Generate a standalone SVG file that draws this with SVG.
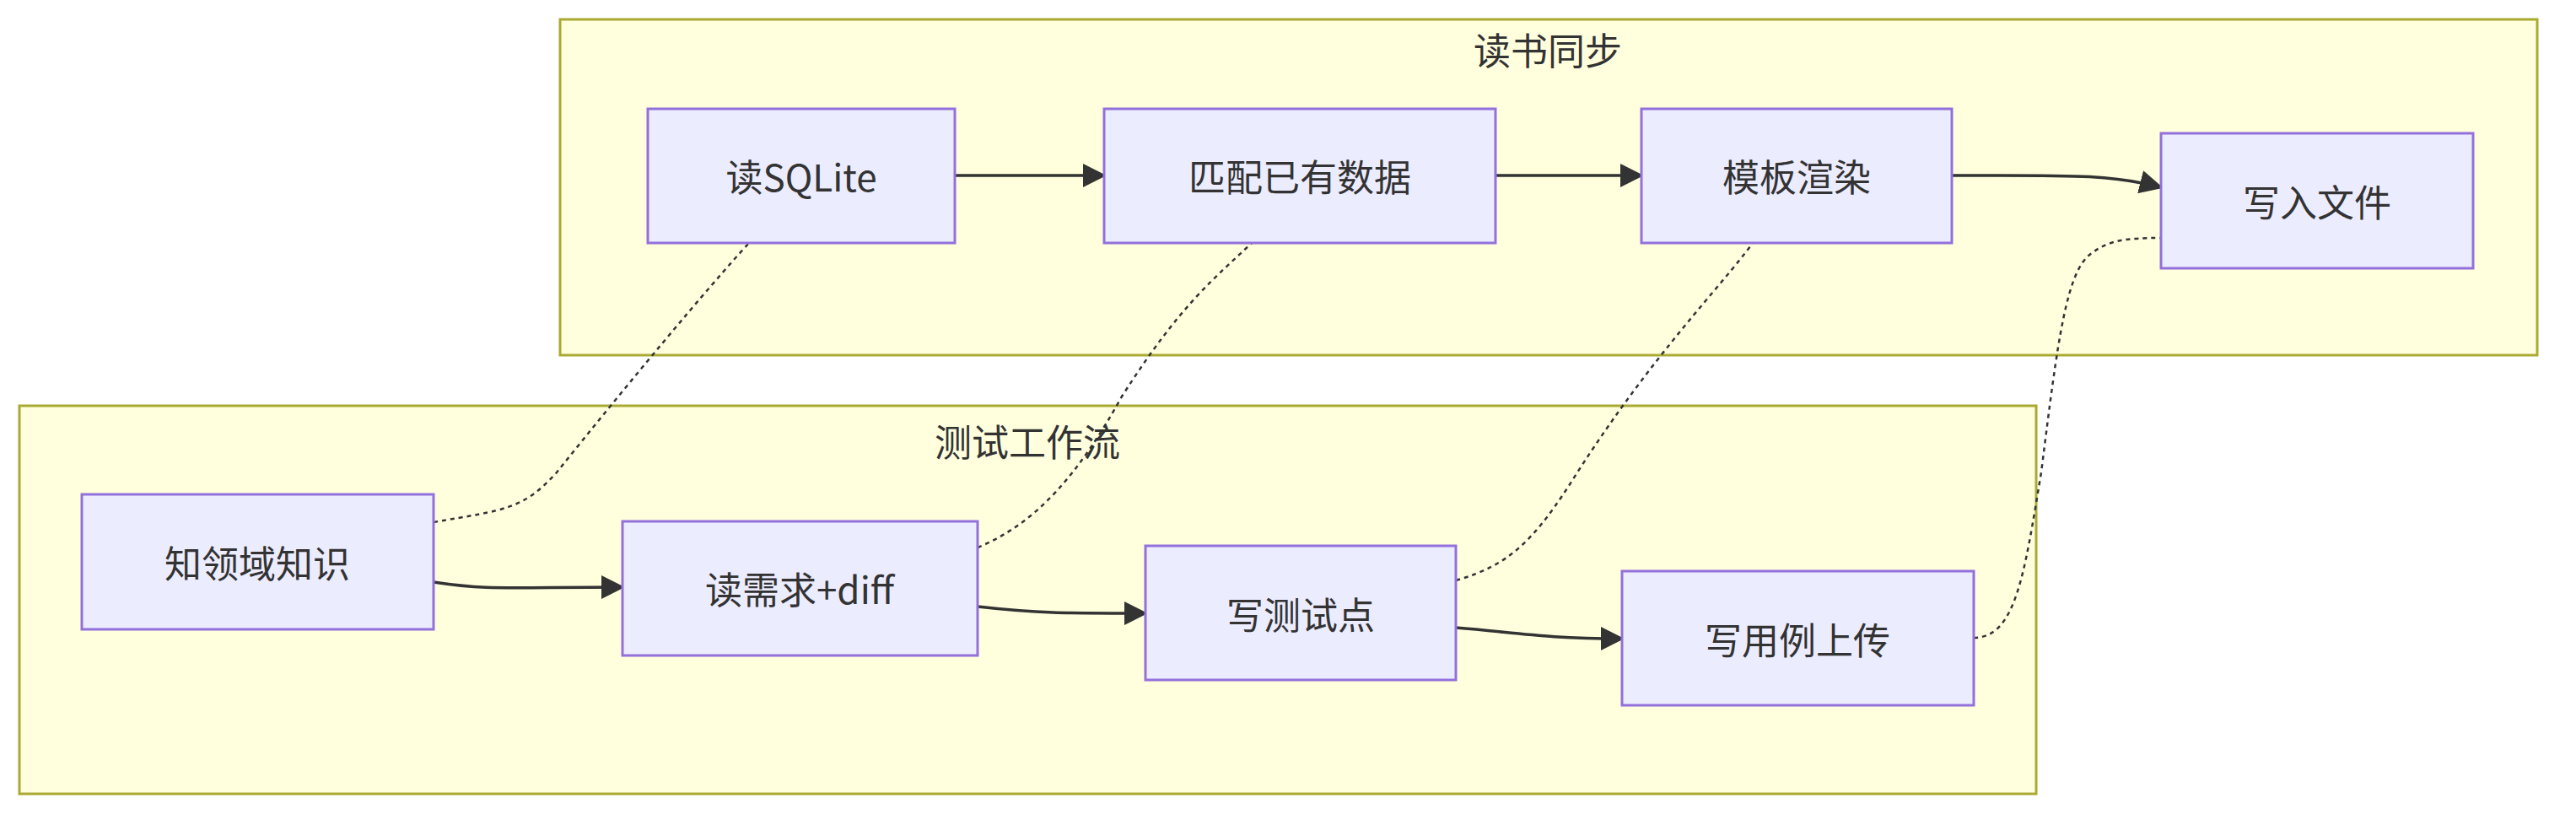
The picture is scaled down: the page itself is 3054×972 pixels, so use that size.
<svg xmlns="http://www.w3.org/2000/svg" width="3054" height="972" viewBox="0 0 3054 972">
<style>
.cl{fill:#ffffde;stroke:#aaaa33;stroke-width:3}
.nd{fill:#ececff;stroke:#9370db;stroke-width:3}
text{font-family:"Noto Sans CJK SC","Noto Sans",sans-serif;font-size:44px;fill:#333;text-anchor:middle;dominant-baseline:central}
.e{fill:none;stroke:#333;stroke-width:3.5}
.d{fill:none;stroke:#333;stroke-width:2.5;stroke-dasharray:5 5}
</style>
<defs><marker id="a" viewBox="0 0 10 10" refX="9" refY="5" markerWidth="6" markerHeight="6" markerUnits="userSpaceOnUse" orient="auto"><path d="M0,0L10,5L0,10z" fill="#333"/></marker>
<marker id="b" viewBox="0 0 10 10" refX="9" refY="5" markerWidth="8" markerHeight="8" orient="auto"><path d="M0,0L10,5L0,10z" fill="#333"/></marker></defs>
<g id="c1"><rect class="cl" x="664" y="23" width="2344" height="398"/><text x="1835" y="58">读书同步</text></g>
<g id="c2"><rect class="cl" x="23" y="481" width="2391" height="460"/><text x="1218" y="522">测试工作流</text></g>
<g id="edges">
<path class="e" marker-end="url(#b)" d="M1132,208H1309"/>
<path class="e" marker-end="url(#b)" d="M1773,208H1946"/>
<path class="e" marker-end="url(#b)" d="M2314,208C2450,208 2500,206 2562,222"/>
<path class="e" marker-end="url(#b)" d="M514,690C580,700 600,696 738,696"/>
<path class="e" marker-end="url(#b)" d="M1159,719C1230,727 1260,727 1358,727"/>
<path class="e" marker-end="url(#b)" d="M1726,744C1800,750 1830,757 1923,757"/>
<path class="d" d="M514,619C600,604 620,604 660,560C740,460 840,340 888,288"/>
<path class="d" d="M1159,649C1230,620 1280,560 1330,470C1400,360 1440,330 1484,288"/>
<path class="d" d="M1726,688C1790,670 1820,640 1870,560C1960,420 2040,340 2078,288"/>
<path class="d" d="M2340,756C2390,756 2400,680 2420,560C2440,400 2450,320 2480,300C2500,285 2520,282 2562,282"/>
</g>
<g id="n1"><rect class="nd" x="768" y="129" width="364" height="159"/><text x="950" y="208">读SQLite</text></g>
<g id="n2"><rect class="nd" x="1309" y="129" width="464" height="159"/><text x="1541" y="208">匹配已有数据</text></g>
<g id="n3"><rect class="nd" x="1946" y="129" width="368" height="159"/><text x="2130" y="208">模板渲染</text></g>
<g id="n4"><rect class="nd" x="2562" y="158" width="370" height="160"/><text x="2747" y="238">写入文件</text></g>
<g id="n5"><rect class="nd" x="97" y="586" width="417" height="160"/><text x="305" y="666">知领域知识</text></g>
<g id="n6"><rect class="nd" x="738" y="618" width="421" height="159"/><text x="948" y="697">读需求+diff</text></g>
<g id="n7"><rect class="nd" x="1358" y="647" width="368" height="159"/><text x="1542" y="727">写测试点</text></g>
<g id="n8"><rect class="nd" x="1923" y="677" width="417" height="159"/><text x="2131" y="757">写用例上传</text></g>
</svg>
